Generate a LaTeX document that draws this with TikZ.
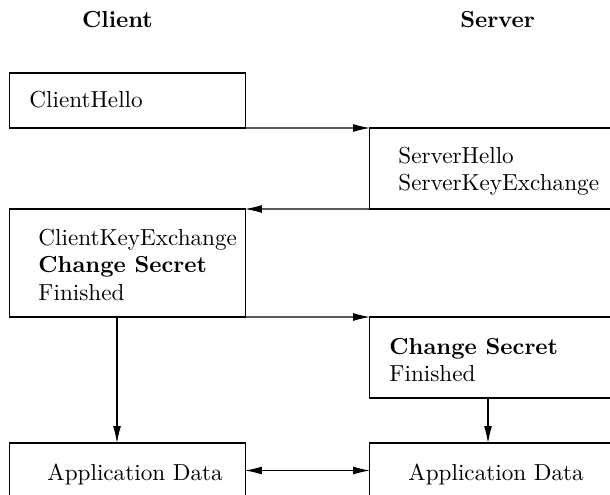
\documentclass[tikz,border=0pt]{standalone}
\usetikzlibrary{arrows.meta}
\begin{document}
\begin{tikzpicture}[x=0.4425pt,y=-0.4425pt,
  every node/.style={font=\fontsize{10.25}{12}\selectfont},
  box/.style={draw, rectangle, outer sep=0pt, inner sep=0pt, line width=0.45pt},
  leftbox/.style={box, minimum width=104pt},
  rightbox/.style={box, minimum width=119.5pt},
  txt/.style={inner sep=0pt, align=left},
  title/.style={inner sep=0pt, anchor=base, font=\fontsize{10.25}{12}\selectfont\bfseries},
  msg/.style={line width=0.45pt, -{Latex[length=7.5pt,width=3.5pt]}},
  both/.style={line width=0.45pt, {Latex[length=7.5pt,width=3.5pt]}-{Latex[length=7.5pt,width=3.5pt]}}]
\useasboundingbox (0,0) rectangle (610,495);
\clip (0,0) rectangle (610,495);

\node[title] (tc) at (117.5,28) {Client};
\node[title] (ts) at (497.5,28) {Server};

\node[leftbox, minimum height=24.34pt] (A) at (127.5,100.5) {};
\node[rightbox, minimum height=35.84pt] (B) at (505,168.5) {};
\node[leftbox, minimum height=47.79pt] (C) at (127.5,263) {};
\node[rightbox, minimum height=35.84pt] (D) at (505,357.5) {};
\node[leftbox, minimum height=24.34pt] (E) at (127.5,470.5) {};
\node[rightbox, minimum height=24.34pt] (F) at (505,470.5) {};

\node[txt, anchor=base west] (tA) at (29,108) {ClientHello};
\node[txt, anchor=north west] (tB) at (398,147) {ServerHello\\ServerKeyExchange};
\node[txt, anchor=north west] (tC) at (38,229) {ClientKeyExchange\\\textbf{Change Secret}\\Finished};
\node[txt, anchor=north west] (tD) at (389,338) {\textbf{Change Secret}\\Finished};
\node[txt, anchor=base west] (tE) at (47,480) {Application Data};
\node[txt, anchor=base west] (tF) at (408,480) {Application Data};

\coordinate (ax) at (117,0);
\coordinate (bx) at (488,0);

\draw[msg] (A.south west) -- (B.north west);
\draw[msg] (B.south east) -- (C.north east);
\draw[msg] (C.south west) -- (D.north west);
\draw[msg] (C.south -| ax) -- (E.north -| ax);
\draw[msg] (D.south -| bx) -- (F.north -| bx);
\draw[both] (E.east) -- (F.west);
\end{tikzpicture}
\end{document}
